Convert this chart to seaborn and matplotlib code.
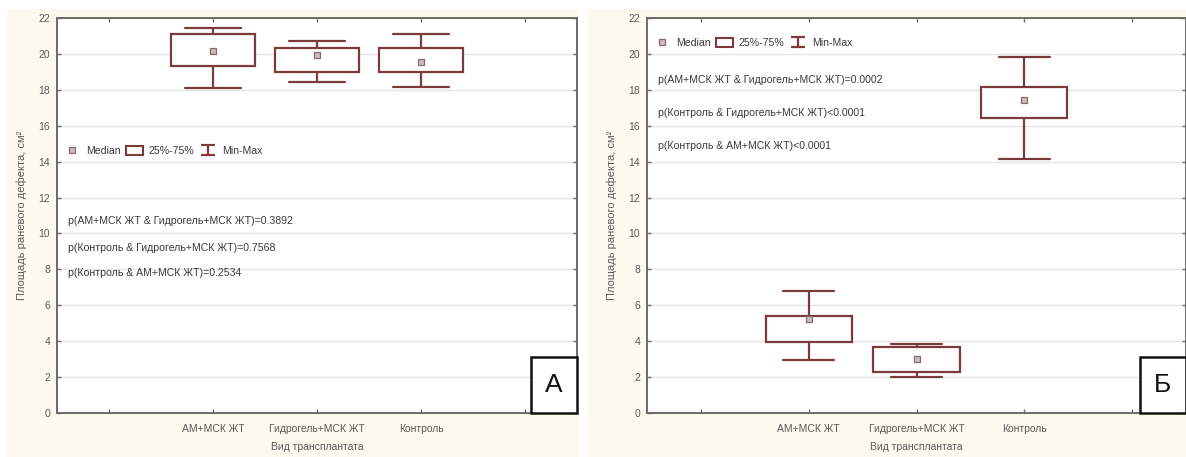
import numpy as np
import pandas as pd
import matplotlib
matplotlib.use("Agg")
import matplotlib.pyplot as plt
import seaborn as sns
from matplotlib.patches import Rectangle, Patch
from matplotlib.lines import Line2D

# ---------------- data ----------------
categories = ["АМ+МСК ЖТ", "Гидрогель+МСК ЖТ", "Контроль"]

a_min = [18.10, 18.45, 18.15]
a_q1 = [19.30, 19.02, 19.02]
a_med = [20.17, 19.95, 19.57]
a_q3 = [21.10, 20.33, 20.33]
a_max = [21.42, 20.74, 21.10]

b_min = [2.95, 2.00, 14.15]
b_q1 = [3.95, 2.30, 16.43]
b_med = [5.25, 2.98, 17.45]
b_q3 = [5.38, 3.70, 18.18]
b_max = [6.80, 3.84, 19.85]

a_notes = ["p(АМ+МСК ЖТ & Гидрогель+МСК ЖТ)=0.3892",
           "p(Контроль & Гидрогель+МСК ЖТ)=0.7568",
           "p(Контроль & АМ+МСК ЖТ)=0.2534"]
b_notes = ["p(АМ+МСК ЖТ & Гидрогель+МСК ЖТ)=0.0002",
           "p(Контроль & Гидрогель+МСК ЖТ)<0.0001",
           "p(Контроль & АМ+МСК ЖТ)<0.0001"]

y_ticks = list(range(0, 23, 2))
y_label = "Площадь раневого дефекта, см²"
x_label = "Вид трансплантата"
legend_labels = ["Median", "25%-75%", "Min-Max"]
panel_letters = ["А", "Б"]

# ---------------- style ----------------
sns.set_theme(style="white")
plt.rcParams["font.family"] = ["Liberation Sans", "DejaVu Sans"]

BOX = "#7d3a3a"
CREAM = "#fcfaef"
GRID = "#e4e4e4"
SPINE = "#6a6a6a"
TXT = "#3a3a3a"

W, H = 1186, 457
fig = plt.figure(figsize=(W / 100, H / 100), dpi=100, facecolor="white")

# cream panel backgrounds
for x0, x1 in [(7, 578), (587, 1186)]:
    fig.patches.append(Rectangle((x0 / W, 0), (x1 - x0) / W, (H - 9) / H,
                                 transform=fig.transFigure, facecolor=CREAM,
                                 edgecolor="none", zorder=-10))


def frame(stats):
    mn, q1, md, q3, mx = stats
    rows = []
    for i, c in enumerate(categories):
        for v in (mn[i], q1[i], md[i], q3[i], mx[i]):
            rows.append({"cat": c, "val": v})
    return pd.DataFrame(rows)


def panel(rect_px, stats, notes, note_y, legend_y, letter, capw):
    x0, y_top, x1, y_bot = rect_px
    ax = fig.add_axes([x0 / W, (H - y_bot) / H, (x1 - x0) / W, (y_bot - y_top) / H])
    ax.set_facecolor("white")
    df = frame(stats)
    ax.yaxis.grid(True, color=GRID, linewidth=1.0, zorder=0)
    ax.set_axisbelow(True)
    sns.boxplot(data=df, x="cat", y="val", order=categories, whis=(0, 100),
                width=0.8, color="white", linecolor=BOX, linewidth=1.6,
                showfliers=False, medianprops={"visible": False},
                capwidths=capw, ax=ax, zorder=3)
    sns.stripplot(x=categories, y=stats[2], order=categories, jitter=False,
                  marker="s", size=4.5, color="#c9bcbc", edgecolor="#8a6a6a",
                  linewidth=0.9, ax=ax, zorder=4)
    ax.set_xlim(-1.5, 3.5)
    ax.set_ylim(0, 22)
    ax.set_yticks(y_ticks)
    ax.set_yticklabels([str(t) for t in y_ticks])
    ax.set_xticks([-1, 0, 1, 2, 3])
    ax.set_xticklabels([""] + categories + [""])
    ax.tick_params(axis="both", direction="in", length=3, width=1, color=SPINE,
                   top=True, right=True, left=True, bottom=True,
                   labelsize=7.5, labelcolor="#5a5a5a")
    ax.tick_params(axis="y", pad=5)
    ax.tick_params(axis="x", pad=8)
    for s in ax.spines.values():
        s.set_visible(True)
        s.set_color(SPINE)
        s.set_linewidth(1.4)
    ax.set_xlabel(x_label, fontsize=7.5, color="#5a5a5a", labelpad=6)
    ax.set_ylabel(y_label, fontsize=8, color="#5a5a5a", labelpad=8)

    for t, yy in zip(notes, note_y):
        ax.text(0.021, yy, t, transform=ax.transAxes, va="center", ha="left",
                fontsize=7.6, color=TXT)

    # legend
    h_med = Line2D([], [], linestyle="none", marker="s", markersize=4.5,
                   markerfacecolor="#c9bcbc", markeredgecolor="#8a6a6a",
                   markeredgewidth=0.9)
    h_box = Patch(facecolor="white", edgecolor=BOX, linewidth=1.5)
    h_mm = ax.errorbar([np.nan], [np.nan], yerr=[1.0], fmt="none",
                       ecolor=BOX, elinewidth=1.6, capsize=5, capthick=1.6)
    ax.legend([h_med, h_box, h_mm], legend_labels, ncol=3, frameon=False,
              loc="center left", bbox_to_anchor=(0.012, legend_y),
              fontsize=7.6, handlelength=1.6, handleheight=0.9,
              handletextpad=0.55, columnspacing=0.5, borderpad=0,
              borderaxespad=0, labelcolor=TXT)

    # panel letter box
    wfrac = 46 / (x1 - x0)
    hfrac = 56 / (y_bot - y_top)
    ax.add_patch(Rectangle((1 - wfrac, 0), wfrac, hfrac, transform=ax.transAxes,
                           facecolor="white", edgecolor="#111111", linewidth=1.8,
                           zorder=6, clip_on=False))
    ax.text(1 - wfrac / 2, hfrac / 2, letter, transform=ax.transAxes,
            ha="center", va="center", fontsize=19, color="#111111", zorder=7)
    return ax


panel((57, 18, 577, 413), (a_min, a_q1, a_med, a_q3, a_max), a_notes,
      [0.486, 0.418, 0.354], 0.663, panel_letters[0], 0.54)
panel((647, 18, 1186, 413), (b_min, b_q1, b_med, b_q3, b_max), b_notes,
      [0.843, 0.759, 0.676], 0.937, panel_letters[1], 0.47)

fig.savefig("out.png", dpi=100, facecolor="white")
